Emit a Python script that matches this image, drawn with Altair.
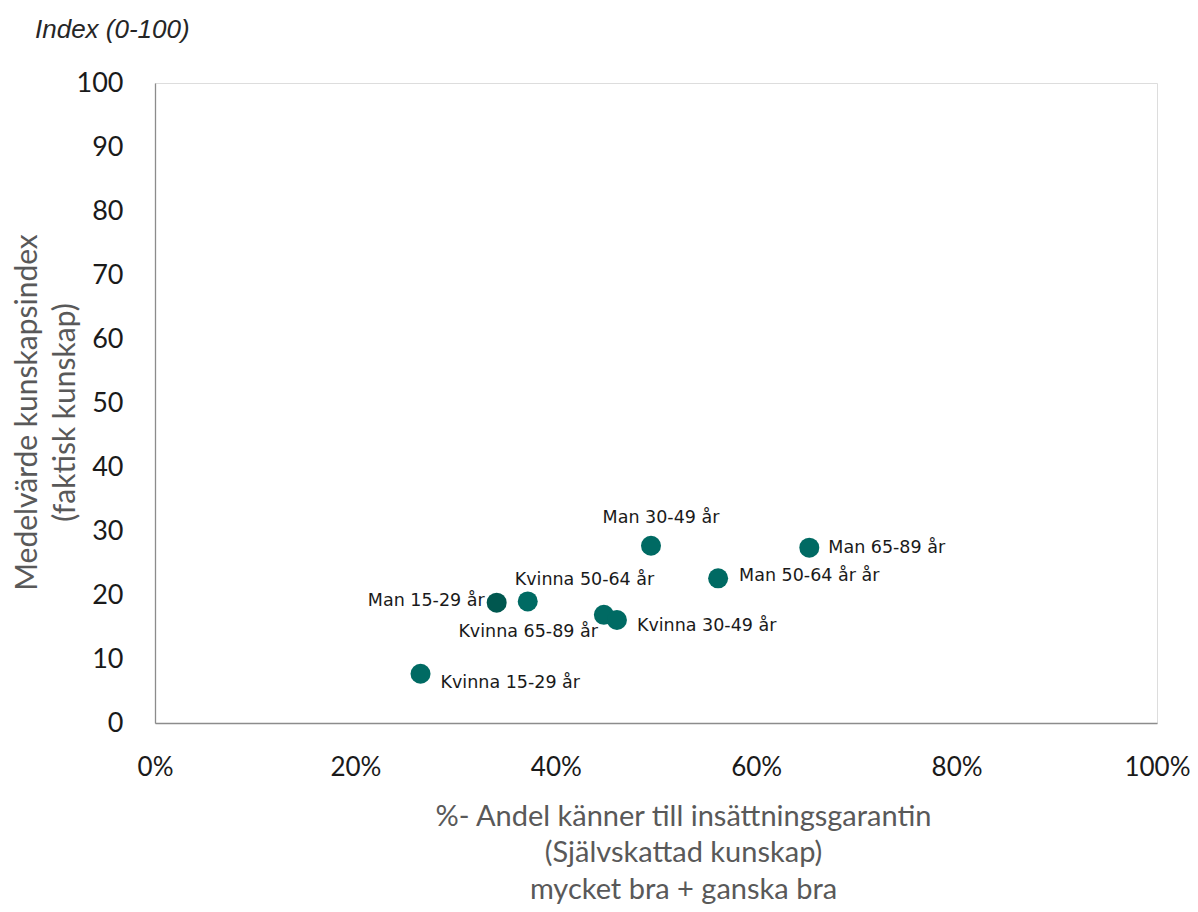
import altair as alt
import pandas as pd

labels = ["Kvinna 15-29 år", "Man 15-29 år", "Kvinna 50-64 år", "Kvinna 65-89 år",
          "Kvinna 30-49 år", "Man 30-49 år", "Man 50-64 år år", "Man 65-89 år"]
andel = [0.265, 0.341, 0.372, 0.448, 0.461, 0.495, 0.562, 0.653]
index_vals = [7.7, 18.8, 19.0, 16.9, 16.1, 27.7, 22.6, 27.4]

# label placement (pixel offsets and alignment), styling only
label_style = {
    "Kvinna 15-29 år": (20, 9, "left"),
    "Man 15-29 år": (-12, -2, "right"),
    "Kvinna 50-64 år": (-13, -21, "left"),
    "Kvinna 65-89 år": (-6, 17, "right"),
    "Kvinna 30-49 år": (20, 6, "left"),
    "Man 30-49 år": (10, -28, "center"),
    "Man 50-64 år år": (21, -2, "left"),
    "Man 65-89 år": (19, 0, "left"),
}

df = pd.DataFrame({"label": labels, "andel": andel, "index": index_vals})

FONT = "Lato"
x_enc = alt.X("andel:Q",
              scale=alt.Scale(domain=[0, 1], nice=False, zero=True),
              axis=alt.Axis(format=".0%", values=[0, 0.2, 0.4, 0.6, 0.8, 1.0],
                            grid=False, ticks=False, tickSize=0,
                            domainColor="#8c8c8c", domainWidth=1.3,
                            labelFont=FONT, labelFontSize=26, labelColor="#1a1a1a",
                            labelPadding=31, labelFlush=False,
                            title=["%- Andel känner till insättningsgarantin",
                                   "(Självskattad kunskap)",
                                   "mycket bra + ganska bra"],
                            titleFont=FONT, titleFontSize=29, titleFontWeight="normal",
                            titleColor="#595959", titleLineHeight=36.5,
                            titleX=528, titleY=79, titleBaseline="top",
                            titleAlign="center", titleAnchor="middle"))
y_enc = alt.Y("index:Q",
              scale=alt.Scale(domain=[0, 100], nice=False),
              axis=alt.Axis(values=list(range(0, 101, 10)),
                            grid=False, ticks=False, tickSize=0,
                            domainColor="#8c8c8c", domainWidth=1.3,
                            labelFont=FONT, labelFontSize=27, labelColor="#1a1a1a",
                            labelPadding=32,
                            title=["Medelvärde kunskapsindex", "(faktisk kunskap)"],
                            titleFont=FONT, titleFontSize=30, titleFontWeight="normal",
                            titleColor="#595959", titleLineHeight=38,
                            titleAngle=-90, titleX=-143, titleY=329,
                            titleBaseline="top", titleAlign="center"))

points = alt.Chart(df).mark_circle(size=400, opacity=1).encode(
    x=x_enc, y=y_enc,
    color=alt.condition(alt.datum.label == "Man 15-29 år",
                        alt.value("#00574f"), alt.value("#006a63")),
)

layers = [points]
for lab in labels:
    dx, dy, align = label_style[lab]
    layers.append(
        alt.Chart(df).transform_filter(alt.datum.label == lab).mark_text(
            dx=dx, dy=dy, align=align, baseline="middle",
            font="DejaVu Sans", fontSize=17.5, color="#1a1a1a"
        ).encode(x="andel:Q", y="index:Q", text="label:N")
    )

unit_title = alt.Chart(pd.DataFrame({"t": ["Index (0-100)"]})).mark_text(
    align="left", baseline="middle", font="Liberation Sans", fontSize=26,
    fontStyle="italic", color="#262626"
).encode(x=alt.value(-120), y=alt.value(-53), text="t:N")
layers.append(unit_title)

chart = alt.layer(*layers).properties(
    width=1002, height=640,
    autosize=alt.AutoSizeParams(type="none"),
    padding={"left": 147, "top": 75, "right": 33, "bottom": 181},
).configure_view(fill="#EEF7F9", strokeWidth=0).configure(background="white")

chart.save("out.html", embed_options={"renderer": "svg", "actions": False})
